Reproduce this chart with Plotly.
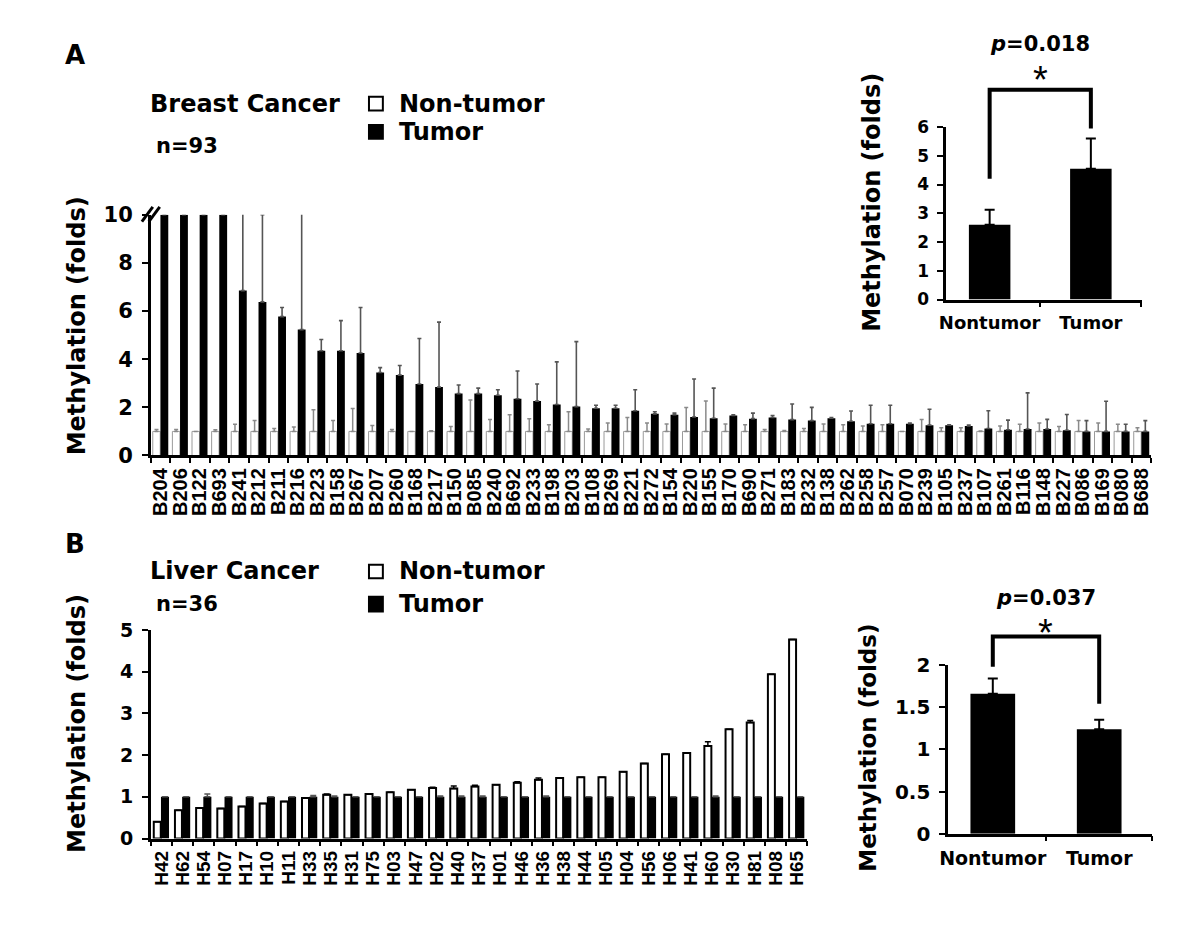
import plotly.graph_objects as go

W, H = 1200, 949
FONT = "DejaVu Sans"
ARIAL = "Liberation Sans"

# ---------------- Panel A data (breast cancer) ----------------
a_samples = ["B204", "B206", "B122", "B693", "B241", "B212", "B211", "B216", "B223", "B158",
             "B267", "B207", "B260", "B168", "B217", "B150", "B085", "B240", "B692", "B233",
             "B198", "B203", "B108", "B269", "B221", "B272", "B154", "B220", "B155", "B170",
             "B690", "B271", "B183", "B232", "B138", "B262", "B258", "B257", "B070", "B239",
             "B105", "B237", "B107", "B261", "B116", "B148", "B227", "B086", "B169", "B080",
             "B688"]
a_nontumor = [1.0, 1.0, 1.0, 1.0, 1.0, 1.0, 1.0, 1.0, 1.0, 1.0,
              1.0, 1.0, 1.0, 1.0, 1.0, 1.0, 1.0, 1.0, 1.0, 1.0,
              1.0, 1.0, 1.0, 1.0, 1.0, 1.0, 1.0, 1.0, 1.0, 1.0,
              1.0, 1.0, 1.0, 1.0, 1.0, 1.0, 1.0, 1.0, 1.0, 1.0,
              1.0, 1.0, 1.0, 1.0, 1.0, 1.0, 1.0, 1.0, 1.0, 1.0,
              1.0]
a_nontumor_top = [1.08, 1.08, 1.0, 1.07, 1.3, 1.45, 1.12, 1.18, 1.9, 1.45,
                  1.95, 1.25, 1.08, 1.0, 1.03, 1.2, 2.3, 1.49, 1.69, 1.53,
                  1.28, 1.82, 1.1, 1.35, 1.58, 1.35, 1.31, 1.99, 2.26, 1.31,
                  1.28, 1.08, 1.04, 1.12, 1.31, 1.28, 1.22, 1.28, 1.0, 1.49,
                  1.15, 1.15, 1.02, 1.22, 1.3, 1.35, 1.2, 1.45, 1.35, 1.3,
                  1.15]
a_tumor = [10.0, 10.0, 10.0, 10.0, 6.85, 6.38, 5.77, 5.23, 4.35, 4.35,
           4.26, 3.45, 3.34, 2.97, 2.84, 2.57, 2.57, 2.5, 2.36, 2.26,
           2.12, 2.03, 1.96, 1.96, 1.86, 1.73, 1.69, 1.6, 1.55, 1.66,
           1.53, 1.58, 1.49, 1.45, 1.55, 1.42, 1.32, 1.32, 1.32, 1.26,
           1.26, 1.23, 1.12, 1.07, 1.1, 1.1, 1.05, 1.0, 1.0, 1.0,
           1.0]
a_tumor_top = [10.0, 10.0, 10.0, 10.0, 10.8, 10.0, 6.15, 10.8, 4.82, 5.6,
               6.15, 3.65, 3.74, 4.86, 5.54, 2.93, 2.8, 2.73, 3.51, 2.97,
               3.89, 4.73, 2.09, 2.09, 2.73, 1.82, 1.76, 3.18, 2.8, 1.69,
               1.76, 1.66, 2.14, 2.0, 1.58, 1.85, 2.09, 2.09, 1.35, 1.92,
               1.28, 1.26, 1.86, 1.47, 2.6, 1.5, 1.7, 1.45, 2.25, 1.3,
               1.45]

# ---------------- Panel B data (liver cancer) ----------------
b_samples = ["H42", "H62", "H54", "H07", "H17", "H10", "H11", "H33", "H35", "H31",
             "H75", "H03", "H47", "H02", "H40", "H37", "H01", "H46", "H36", "H38",
             "H44", "H05", "H04", "H56", "H06", "H41", "H60", "H30", "H81", "H08",
             "H65"]
b_nontumor = [0.4, 0.68, 0.73, 0.72, 0.77, 0.84, 0.89, 0.97, 1.05, 1.05,
              1.07, 1.11, 1.17, 1.21, 1.2, 1.25, 1.29, 1.34, 1.41, 1.45,
              1.47, 1.47, 1.6, 1.8, 2.02, 2.05, 2.22, 2.62, 2.78, 3.94,
              4.77]
b_nontumor_err = [0.0, 0.0, 0.0, 0.0, 0.0, 0.0, 0.0, 0.0, 0.02, 0.0,
                  0.0, 0.0, 0.0, 0.02, 0.06, 0.03, 0.0, 0.02, 0.04, 0.0,
                  0.0, 0.0, 0.0, 0.0, 0.0, 0.0, 0.1, 0.0, 0.05, 0.0,
                  0.0]
b_tumor = [1.0, 1.0, 1.0, 1.0, 1.0, 1.0, 1.0, 1.0, 1.0, 1.0,
           1.0, 1.0, 1.0, 1.0, 1.0, 1.0, 1.0, 1.0, 1.0, 1.0,
           1.0, 1.0, 1.0, 1.0, 1.0, 1.0, 1.0, 1.0, 1.0, 1.0,
           1.0]
b_tumor_err = [0.0, 0.0, 0.07, 0.0, 0.0, 0.0, 0.0, 0.03, 0.02, 0.0,
               0.0, 0.0, 0.0, 0.02, 0.02, 0.02, 0.0, 0.0, 0.02, 0.0,
               0.0, 0.0, 0.0, 0.0, 0.0, 0.0, 0.02, 0.0, 0.0, 0.0,
               0.0]

# ---------------- Insets ----------------
inset_groups = ["Nontumor", "Tumor"]
inset_a_mean = [2.6, 4.55]
inset_a_err = [0.52, 1.05]
inset_b_mean = [1.66, 1.24]
inset_b_err = [0.18, 0.11]
p_a = "0.018"
p_b = "0.037"
bracket_a = (4.2, 7.3, 5.95)   # left foot, top, right foot (data units)
bracket_b = (1.98, 2.34, 1.54)


def px(x):
    return x / W


def py(y):
    return 1 - y / H


# layout geometry (pixels)
A_X = (143, 1152); A_Y = (455, 208); A_R = [0, 10]
B_X = (143, 805);  B_Y = (848, 634); B_R = [0, 5]
IA_X = (945, 1143); IA_Y = (295, 118); IA_R = [0, 6]; IA_XR = [-0.43, 1.51]
IB_X = (947, 1153); IB_Y = (843, 670); IB_R = [0, 2]; IB_XR = [-0.42, 1.50]

fig = go.Figure()


def zero(n):
    return [0] * n


# Panel A bars
fig.add_bar(x=a_samples, y=a_nontumor, xaxis="x", yaxis="y", width=0.38, offset=-0.40,
            marker=dict(color="white", line=dict(color="#9a9a9a", width=1)),
            error_y=dict(type="data", symmetric=False,
                         array=[max(t - v, 0) for t, v in zip(a_nontumor_top, a_nontumor)],
                         arrayminus=zero(len(a_nontumor)), color="#8a8a8a", thickness=1.5, width=2))
fig.add_bar(x=a_samples, y=a_tumor, xaxis="x", yaxis="y", width=0.40, offset=-0.01,
            marker=dict(color="black", line=dict(width=0)),
            error_y=dict(type="data", symmetric=False,
                         array=[max(t - v, 0) for t, v in zip(a_tumor_top, a_tumor)],
                         arrayminus=zero(len(a_tumor)), color="#555555", thickness=1.6, width=2))

# Panel B bars
fig.add_bar(x=b_samples, y=b_nontumor, xaxis="x2", yaxis="y2", width=0.33, offset=-0.36,
            marker=dict(color="white", line=dict(color="black", width=2)),
            error_y=dict(type="data", symmetric=False, array=b_nontumor_err,
                         arrayminus=zero(len(b_nontumor)), color="black", thickness=1.5, width=3))
fig.add_bar(x=b_samples, y=b_tumor, xaxis="x2", yaxis="y2", width=0.38, offset=-0.02,
            marker=dict(color="black", line=dict(width=0)),
            error_y=dict(type="data", symmetric=False, array=b_tumor_err,
                         arrayminus=zero(len(b_tumor)), color="#555555", thickness=1.5, width=3))

# Insets
fig.add_bar(x=inset_groups, y=inset_a_mean, xaxis="x3", yaxis="y3", width=0.41,
            marker=dict(color="black", line=dict(width=0)),
            error_y=dict(type="data", symmetric=False, array=inset_a_err, arrayminus=[0, 0],
                         color="black", thickness=2, width=5))
fig.add_bar(x=inset_groups, y=inset_b_mean, xaxis="x4", yaxis="y4", width=0.42,
            marker=dict(color="black", line=dict(width=0)),
            error_y=dict(type="data", symmetric=False, array=inset_b_err, arrayminus=[0, 0],
                         color="black", thickness=2, width=5))


def xax(dom, rng, anchor, fsize, cats, angle=0, family=FONT, standoff=2):
    return dict(domain=[px(dom[0]), px(dom[1])], range=rng, anchor=anchor, type="category",
                showline=True, linecolor="black", linewidth=2.5, ticks="outside",
                tickmode="array", tickvals=cats, ticktext=cats,
                tickson="boundaries", ticklen=5, tickwidth=2, tickcolor="black",
                tickangle=angle, showgrid=False, zeroline=False, ticklabelstandoff=standoff,
                tickfont=dict(family=family, size=fsize, color="black", weight="bold"))


def yax(dom, rng, anchor, fsize, dtick, standoff=5):
    return dict(domain=[py(dom[0]), py(dom[1])], range=rng, anchor=anchor,
                showline=True, linecolor="black", linewidth=2.5, ticks="outside",
                ticklen=6, tickwidth=2, tickcolor="black", dtick=dtick, tick0=0,
                showgrid=False, zeroline=False, ticklabelstandoff=standoff,
                tickfont=dict(family=FONT, size=fsize, color="black", weight="bold"))


fig.update_layout(
    width=W, height=H, margin=dict(l=0, r=0, t=0, b=0),
    paper_bgcolor="white", plot_bgcolor="white", showlegend=False,
    xaxis=xax(A_X, [-0.5, len(a_samples) - 0.5], "y", 20, a_samples, -90, ARIAL),
    yaxis=yax(A_Y, A_R, "x", 21, 2),
    xaxis2=xax(B_X, [-0.5, len(b_samples) - 0.5], "y2", 19, b_samples, -90, ARIAL),
    yaxis2=yax(B_Y, B_R, "x2", 19, 1),
    xaxis3=xax(IA_X, IA_XR, "y3", 18, inset_groups, 0, FONT, 5),
    yaxis3=yax(IA_Y, IA_R, "x3", 17, 1),
    xaxis4=xax(IB_X, IB_XR, "y4", 19, inset_groups, 0, FONT, 6),
    yaxis4=yax(IB_Y, IB_R, "x4", 20, 0.5),
)

ann = []


def text(x, y, s, size, xanchor="left", angle=0, weight="bold", family=FONT):
    ann.append(dict(x=px(x), y=py(y), xref="paper", yref="paper", text=s, showarrow=False,
                    xanchor=xanchor, yanchor="middle", textangle=angle,
                    font=dict(family=family, size=size, color="black", weight=weight)))


# panel letters and headers
text(54, 44, "A", 26)
text(140, 94, "Breast Cancer", 24)
text(391, 94, "Non-tumor", 24)
text(391, 123, "Tumor", 24)
text(146, 137, "n=93", 21)
text(54, 546, "B", 26)
text(140, 574, "Liver Cancer", 24)
text(391, 574, "Non-tumor", 24)
text(391, 607, "Tumor", 24)
text(146, 607, "n=36", 21)

# y titles
text(68, 322, "Methylation (folds)", 24, "center", -90)
text(870, 195, "Methylation (folds)", 24, "center", -90)
text(68, 730, "Methylation (folds)", 24, "center", -90)
text(866, 755, "Methylation (folds)", 23, "center", -90)

shapes = []
# legend squares
for (y0, y1, filled) in [(87, 101, False), (116, 130, True), (567, 581, False), (600, 615, True)]:
    shapes.append(dict(type="rect", xref="paper", yref="paper",
                       x0=px(363), x1=px(377), y0=py(y1), y1=py(y0),
                       fillcolor="black" if filled else "white",
                       line=dict(color="black", width=2)))

# axis break marks
for dx in (0, 7):
    shapes.append(dict(type="line", xref="paper", yref="paper",
                       x0=px(134 + dx), y0=py(215), x1=px(145 + dx), y1=py(200),
                       line=dict(color="black", width=3)))


def cat_to_paper(xdom, xr, c):
    return px(xdom[0]) + (c - xr[0]) / (xr[1] - xr[0]) * (px(xdom[1]) - px(xdom[0]))


def val_to_paper(ydom, yr, v):
    return py(ydom[0]) + (v - yr[0]) / (yr[1] - yr[0]) * (py(ydom[1]) - py(ydom[0]))


def bracket(xdom, xr, ydom, yr, b, pval, p_y, star_y):
    x0 = cat_to_paper(xdom, xr, 0)
    x1 = cat_to_paper(xdom, xr, 1)
    yl = val_to_paper(ydom, yr, b[0])
    yt = val_to_paper(ydom, yr, b[1])
    yr_ = val_to_paper(ydom, yr, b[2])
    shapes.append(dict(type="path", xref="paper", yref="paper",
                       path=f"M {x0},{yl} L {x0},{yt} L {x1},{yt} L {x1},{yr_}",
                       line=dict(color="black", width=4)))
    xm = (x0 + x1) / 2 * W
    text(xm, p_y, f"<i>p</i>={pval}", 21, "center")
    text(xm, star_y, "*", 38, "center", weight="normal", family=ARIAL)


bracket(IA_X, IA_XR, IA_Y, IA_R, bracket_a, p_a, 33, 70)
bracket(IB_X, IB_XR, IB_Y, IB_R, bracket_b, p_b, 601, 637)

fig.update_layout(annotations=ann, shapes=shapes)

fig.write_html("out.html", config={"displayModeBar": False},
               post_script="document.body.style.margin='0';")
